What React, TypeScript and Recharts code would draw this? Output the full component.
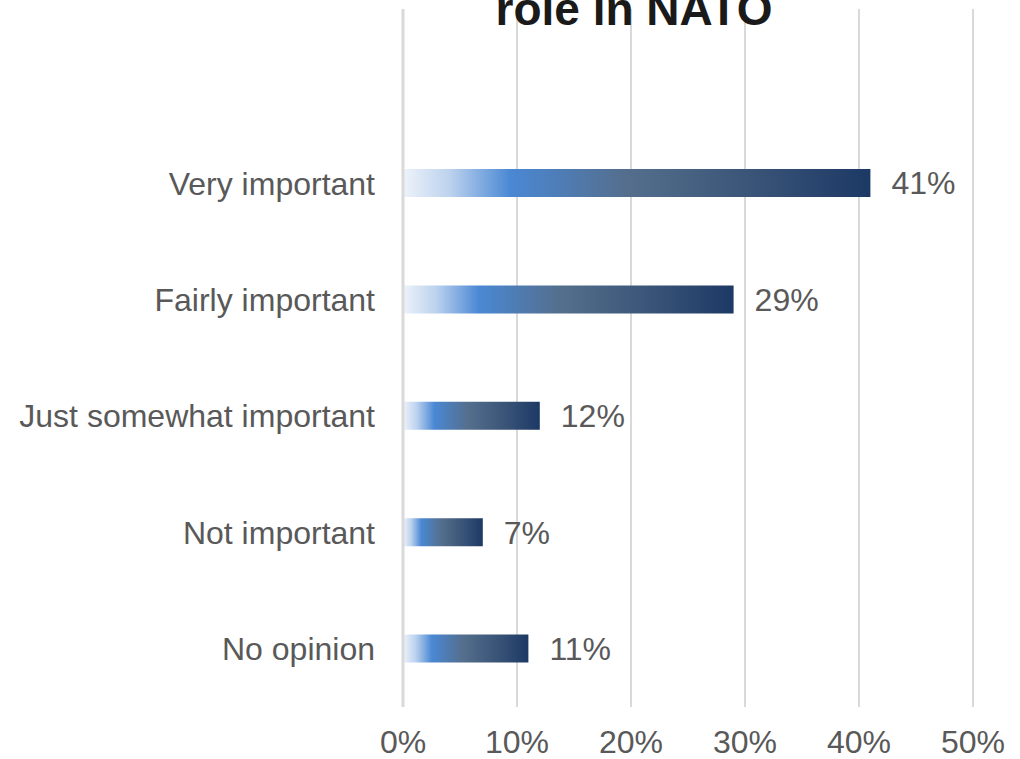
import React from 'react';
import { BarChart, Bar, XAxis, YAxis, CartesianGrid, LabelList } from 'recharts';

const categories = [
  'Very important',
  'Fairly important',
  'Just somewhat important',
  'Not important',
  'No opinion',
];
const shares = [41, 29, 12, 7, 11];
const xTicks = [0, 10, 20, 30, 40, 50];

const data = categories.map((name, i) => ({ name, value: shares[i] }));

const font = '"Liberation Sans", Arial, sans-serif';

const App: React.FC = () => (
  <div style={{ position: 'absolute', left: 0, top: 0, width: 1020, height: 759 }}>
    <BarChart
      width={1020}
      height={759}
      data={data}
      layout="vertical"
      margin={{ top: 9, right: 47, left: 0, bottom: 0 }}
      style={{ fontFamily: font }}
    >
      <defs>
        <linearGradient id="barFill" x1="0" y1="0" x2="1" y2="0">
          <stop offset="0%" stopColor="#eef3fa" />
          <stop offset="10%" stopColor="#bcd2ee" />
          <stop offset="23%" stopColor="#4a88d4" />
          <stop offset="48%" stopColor="#546e8c" />
          <stop offset="75%" stopColor="#3a5478" />
          <stop offset="100%" stopColor="#1c3965" />
        </linearGradient>
      </defs>
      <CartesianGrid horizontal={false} stroke="#d9d9d9" strokeWidth={2} />
      <XAxis
        type="number"
        domain={[0, 50]}
        ticks={xTicks}
        tickFormatter={(v) => `${v}%`}
        axisLine={false}
        tickLine={false}
        tickSize={0}
        tickMargin={23}
        height={52}
        tick={{ fill: '#595959', fontSize: 32, fontFamily: font }}
      />
      <YAxis
        type="category"
        dataKey="name"
        width={403}
        padding={{ top: 116, bottom: 0 }}
        axisLine={{ stroke: '#d9d9d9', strokeWidth: 3 }}
        tickLine={false}
        tickSize={0}
        tickMargin={28}
        tick={{ fill: '#595959', fontSize: 32, fontFamily: font }}
      />
      <Bar dataKey="value" fill="url(#barFill)" barSize={28} isAnimationActive={false}>
        <LabelList
          dataKey="value"
          position="right"
          offset={21}
          formatter={(v: number) => `${v}%`}
          style={{ fill: '#595959', fontSize: 32, fontFamily: font }}
        />
      </Bar>
    </BarChart>
    <svg
      width={1020}
      height={60}
      style={{ position: 'absolute', left: 0, top: 0, pointerEvents: 'none' }}
    >
      <text
        x={634}
        y={25}
        textAnchor="middle"
        fontFamily={font}
        fontWeight="bold"
        fontSize={46}
        fill="#1a1a1a"
      >
        role in NATO
      </text>
    </svg>
  </div>
);

export default App;
